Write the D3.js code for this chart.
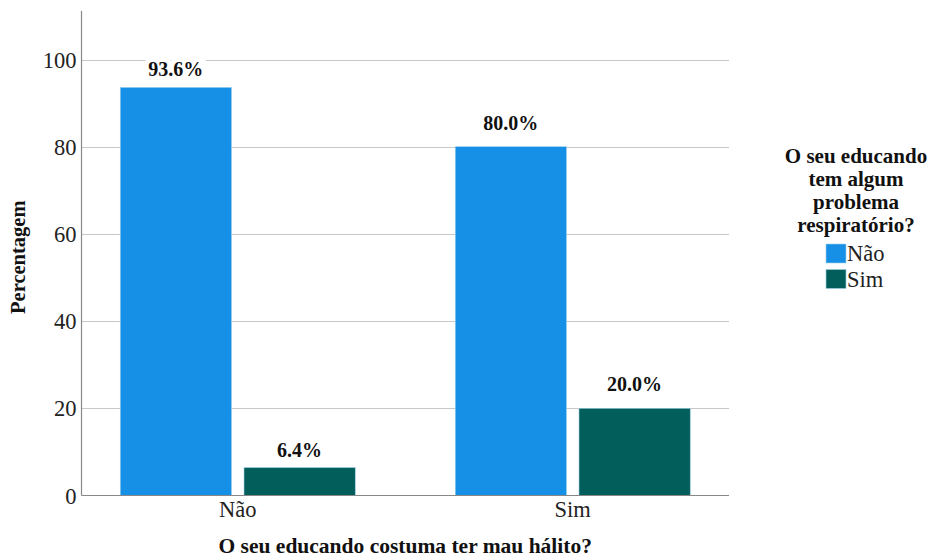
<!DOCTYPE html>
<html><head><meta charset="utf-8">
<script src="https://cdn.jsdelivr.net/npm/d3@7"></script>
<style>body{margin:0;background:#fff}svg{display:block}</style>
</head><body><svg id="c" width="934" height="560"></svg>
<script>
const categories = ["Não", "Sim"];
const seriesNames = ["Não", "Sim"];
const valuesNao = [93.6, 80.0];
const valuesSim = [6.4, 20.0];
const yTicks = [0, 20, 40, 60, 80, 100];
const colors = ["#1590e6", "#025e5b"];
const xTitle = "O seu educando costuma ter mau hálito?";
const yTitle = "Percentagem";
const legendTitle = ["O seu educando", "tem algum", "problema", "respiratório?"];

const FONT = "'Liberation Serif', 'DejaVu Serif', 'Times New Roman', serif";
const labelGap = {"Não": 11, "Sim": 17};
const svg = d3.select("#c").attr("font-family", FONT);
const L = 81.5, R = 729, T = 11, B = 495.5;
const y = d3.scaleLinear().domain([0, 100]).range([B, 59.5]);
const x0 = d3.scaleBand().domain(categories).range([L, R]).paddingInner(0.2985).paddingOuter(0.1157);
const x1 = d3.scaleBand().domain(seriesNames).range([0, x0.bandwidth()]).paddingInner(0.101).paddingOuter(0);

// gridlines
svg.append("g").selectAll("line").data(yTicks.filter(d => d > 0)).join("line")
  .attr("x1", L).attr("x2", R).attr("y1", d => Math.round(y(d)) + 0.5).attr("y2", d => Math.round(y(d)) + 0.5)
  .attr("stroke", "#c8c8c8").attr("stroke-width", 1.2);

const data = categories.map((c, i) => ({cat: c, vals: [valuesNao[i], valuesSim[i]]}));
const g = svg.append("g").selectAll("g").data(data).join("g")
  .attr("transform", d => `translate(${x0(d.cat)},0)`);
g.selectAll("rect").data(d => d.vals.map((v, j) => ({v, s: seriesNames[j], j}))).join("rect")
  .attr("x", d => x1(d.s)).attr("width", x1.bandwidth())
  .attr("y", d => y(d.v)).attr("height", d => B - y(d.v))
  .attr("fill", d => colors[d.j]).attr("stroke", "#9fd0e8").attr("stroke-width", 0.6);

g.selectAll("text.lab").data(d => d.vals.map((v, j) => ({v, s: seriesNames[j], j, cat: d.cat}))).join("text")
  .attr("class", "lab").attr("font-family", FONT)
  .attr("x", d => x1(d.s) + x1.bandwidth() / 2).attr("y", d => y(d.v) - labelGap[d.cat])
  .attr("text-anchor", "middle").attr("font-weight", "bold").attr("font-size", 20)
  .attr("fill", "#111")
  .attr("stroke", "#fff").attr("stroke-width", 10).attr("paint-order", "stroke")
  .text(d => d.v.toFixed(1) + "%");

// y axis
const ya = svg.append("g").attr("transform", `translate(${L},0)`)
  .call(d3.axisLeft(y).tickValues(yTicks).tickSize(0).tickPadding(5));
ya.attr("font-family", FONT);
ya.select(".domain").remove();
ya.selectAll("text").attr("font-size", 22.5).attr("fill", "#222").attr("font-family", FONT).attr("dy", "0.34em");
svg.append("line").attr("x1", L).attr("x2", L).attr("y1", T).attr("y2", B).attr("stroke", "#888").attr("stroke-width", 1.2);

// x axis
const xa = svg.append("g").attr("transform", `translate(0,${B})`)
  .call(d3.axisBottom(x0).tickSize(0).tickPadding(6));
xa.attr("font-family", FONT);
xa.select(".domain").remove();
xa.selectAll("text").attr("font-size", 22.5).attr("fill", "#222").attr("font-family", FONT);
svg.append("line").attr("x1", L).attr("x2", R).attr("y1", B).attr("y2", B).attr("stroke", "#888").attr("stroke-width", 1.2);

// titles
svg.append("text").attr("x", (L + R) / 2).attr("y", 553).attr("text-anchor", "middle").attr("font-family", FONT)
  .attr("font-weight", "bold").attr("font-size", 21.5).attr("fill", "#111").text(xTitle);
svg.append("text").attr("transform", `translate(25,${(T + B) / 2 + 4}) rotate(-90)`).attr("text-anchor", "middle").attr("font-family", FONT)
  .attr("font-weight", "bold").attr("font-size", 20.5).attr("fill", "#111").text(yTitle);

// legend
const lg = svg.append("g").attr("font-family", FONT);
lg.selectAll("text.t").data(legendTitle).join("text").attr("class", "t")
  .attr("x", 856).attr("y", (d, i) => 163 + i * 23).attr("text-anchor", "middle")
  .attr("font-weight", "bold").attr("font-size", 21).attr("fill", "#111").text(d => d);
const li = lg.selectAll("g.i").data(seriesNames).join("g").attr("class", "i")
  .attr("transform", (d, i) => `translate(826,${244 + i * 25.5})`);
li.append("rect").attr("width", 20).attr("height", 19).attr("fill", (d, i) => colors[i])
  .attr("stroke", "#9fd0e8").attr("stroke-width", 0.6);
li.append("text").attr("x", 21).attr("y", 17).attr("font-size", 22.5).attr("fill", "#222").text(d => d);
</script></body></html>
